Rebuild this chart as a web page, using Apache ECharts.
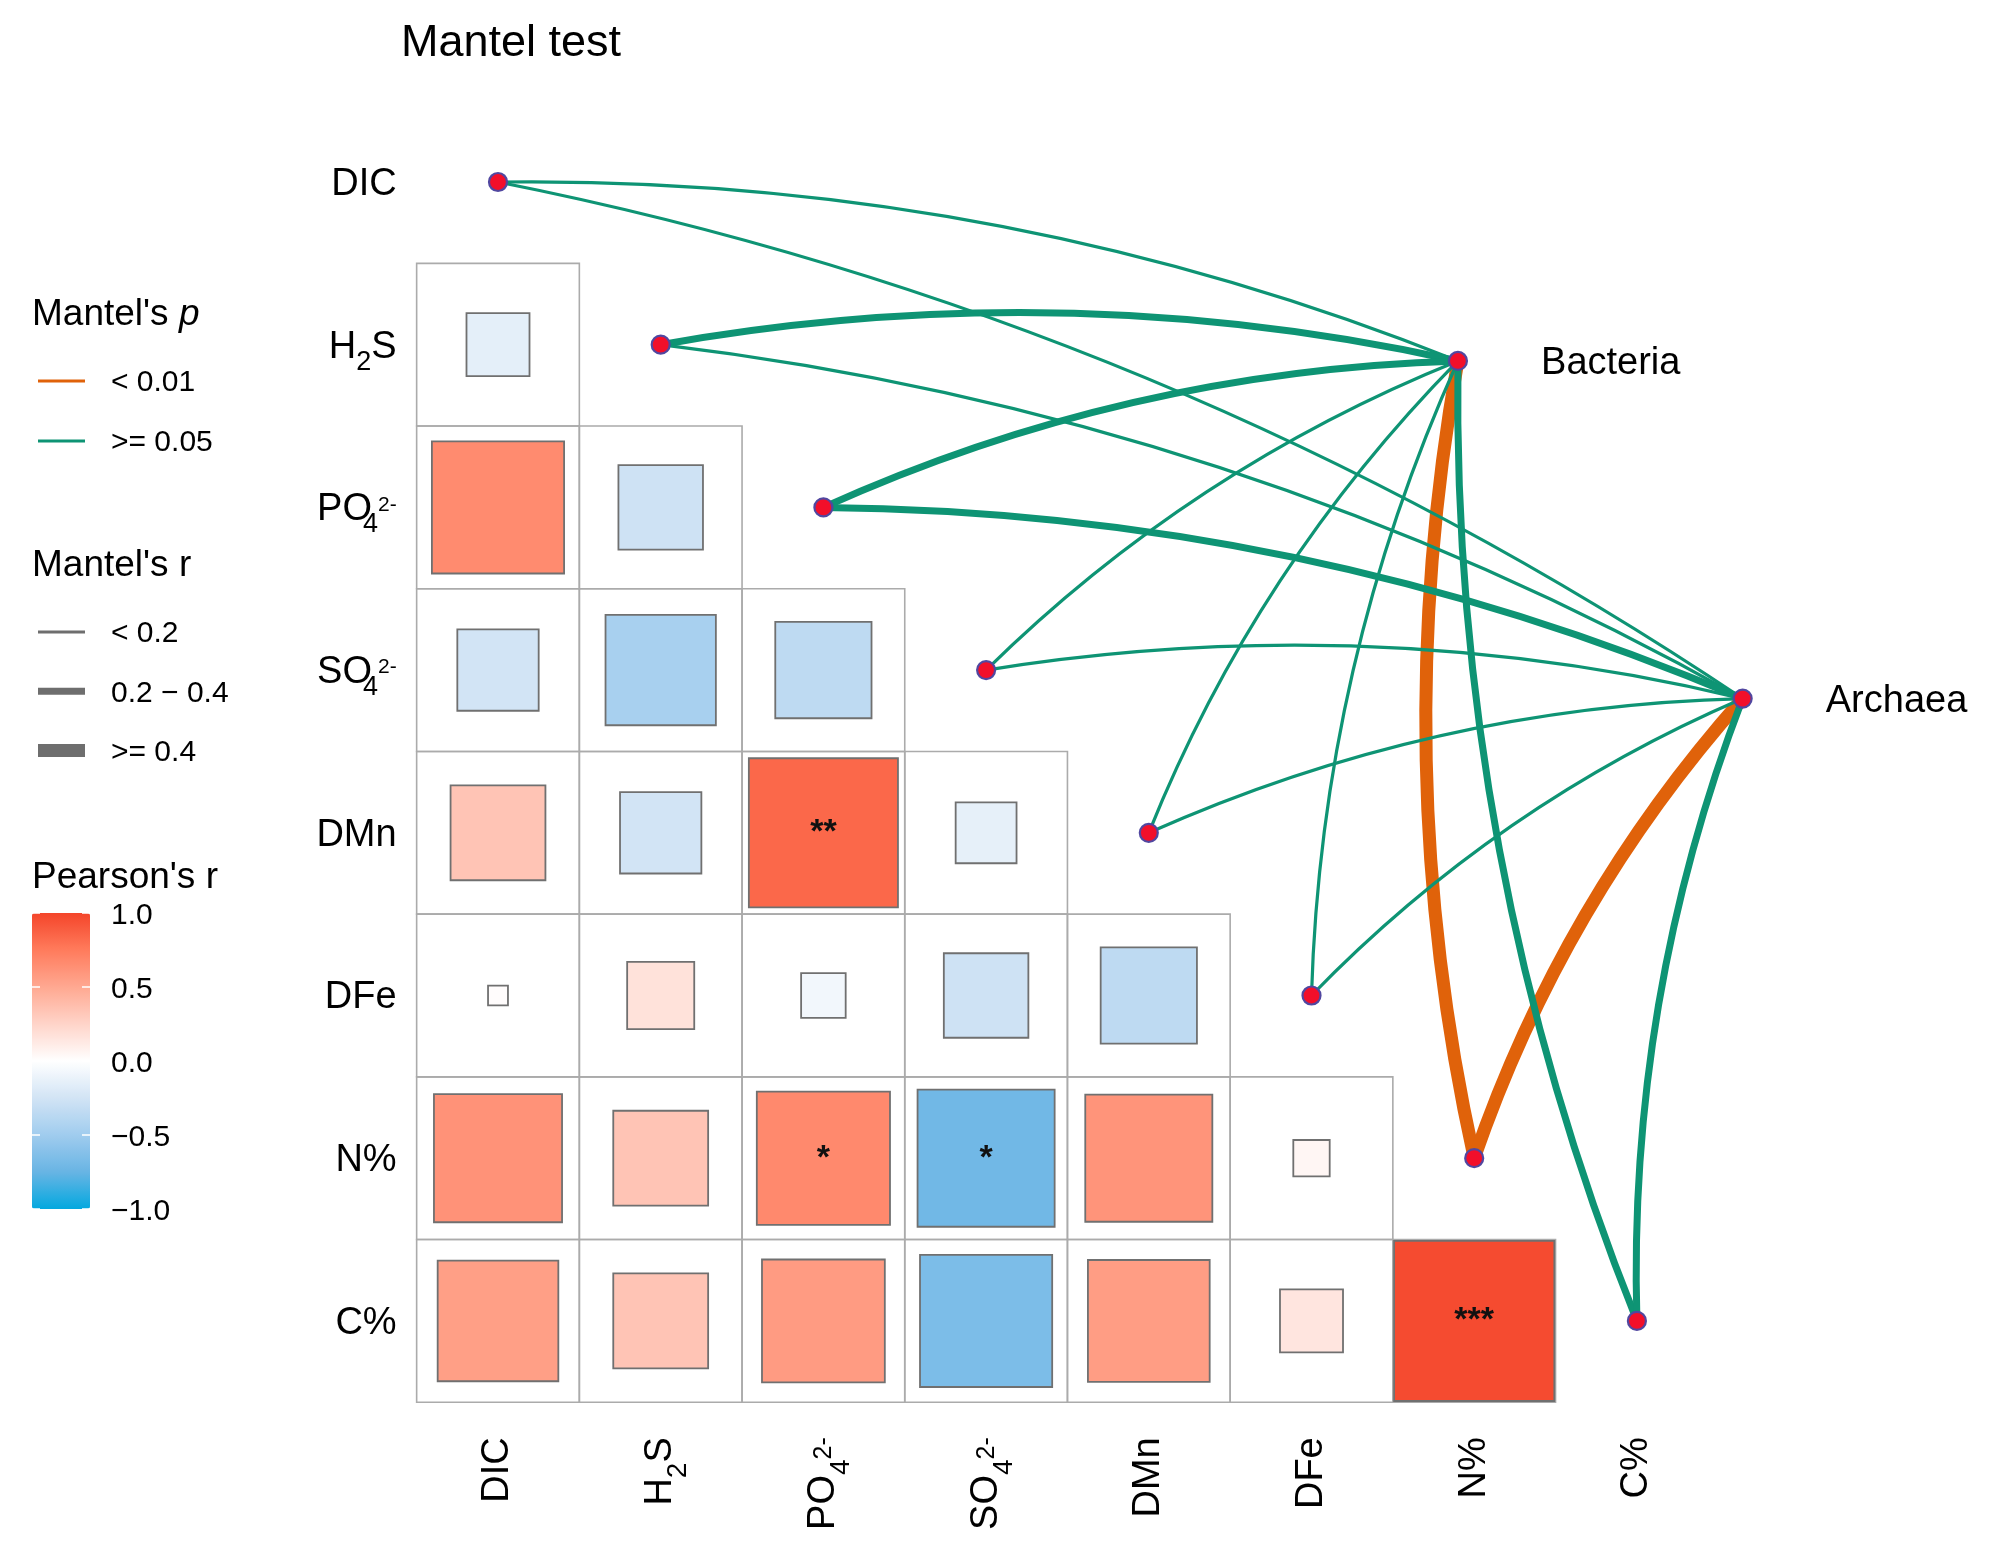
<!DOCTYPE html>
<html>
<head>
<meta charset="utf-8">
<script src="https://cdn.jsdelivr.net/npm/echarts@6/dist/echarts.min.js"></script>
<style>html,body{margin:0;padding:0;background:#fff}#chart{width:1995px;height:1550px}</style>
</head>
<body>
<div id="chart"></div>
<script>
// ---------------- DATA ----------------
const envVars = ['DIC', 'H2S', 'PO4', 'SO4', 'DMn', 'DFe', 'N%', 'C%'];
const speciesNames = ['Bacteria', 'Archaea'];
// Pearson's r, lower triangle: row i, columns 0..i-1
const pearsonR = [
  [],
  [-0.15],
  [0.66, -0.27],
  [-0.25, -0.46, -0.35],
  [0.34, -0.25, 0.84, -0.14],
  [0.015, 0.17, -0.075, -0.27, -0.35],
  [0.62, 0.34, 0.67, -0.71, 0.61, 0.05],
  [0.55, 0.34, 0.57, -0.66, 0.56, 0.15, 0.97]
];
const pearsonSig = [
  [],
  [''],
  ['', ''],
  ['', '', ''],
  ['', '', '**', ''],
  ['', '', '', '', ''],
  ['', '', '*', '*', '', ''],
  ['', '', '', '', '', '', '***']
];
// Mantel test classes per environmental variable (order of envVars)
const mantelPBacteria = ['>= 0.05', '>= 0.05', '>= 0.05', '>= 0.05', '>= 0.05', '>= 0.05', '< 0.01', '>= 0.05'];
const mantelRBacteria = ['< 0.2', '0.2 - 0.4', '0.2 - 0.4', '< 0.2', '< 0.2', '< 0.2', '>= 0.4', '0.2 - 0.4'];
const mantelPArchaea  = ['>= 0.05', '>= 0.05', '>= 0.05', '>= 0.05', '>= 0.05', '>= 0.05', '< 0.01', '>= 0.05'];
const mantelRArchaea  = ['< 0.2', '< 0.2', '0.2 - 0.4', '< 0.2', '< 0.2', '< 0.2', '>= 0.4', '0.2 - 0.4'];
const pLevels = ['< 0.01', '>= 0.05'];
const rLevels = ['< 0.2', '0.2 - 0.4', '>= 0.4'];
const colorbarTicks = [-1, -0.5, 0, 0.5, 1];

// ---------------- STYLE / LAYOUT ----------------
const FONT = "'Liberation Sans', Arial, Helvetica, sans-serif";
const CELL = 162.7;
const GRID_LEFT = 416.65, GRID_TOP = 100.65;
const LABEL_SIZE = 38;
const LINE_H = 56;
const pColor = { '< 0.01': '#E0620A', '>= 0.05': '#0E9474' };
const rWidth = { '< 0.2': 3.2, '0.2 - 0.4': 7, '>= 0.4': 13 };
const rLegendColor = '#6E6E6E';
const speciesAnchor = { Bacteria: [5.90, 1.10], Archaea: [7.65, 3.175] }; // in cell units
const heatColors = ['#03A8DF', '#68B4E4', '#A0CCEE', '#D2E4F5', '#FFFFFF', '#FFD4C9', '#FFA891', '#FF7B5C', '#F4452A'];

const labelMarkup = {
  'H2S': '{m|H}{sub|2}{m|S}',
  'PO4': '{m|PO}{sub4|4}{sup|2-}',
  'SO4': '{m|SO}{sub4|4}{sup|2-}'
};
function fmtLabel(v) { return labelMarkup[v] || ('{m|' + v + '}'); }
// tokens are all top-aligned; 'height' = 2 x centre offset from the top of the line
function richStyles(o) {
  const base = { fontFamily: FONT, color: '#000', verticalAlign: 'top', lineHeight: LINE_H };
  return {
    m: Object.assign({ fontSize: LABEL_SIZE, height: 2 * o.main }, base),
    sub: Object.assign({ fontSize: o.subSize, height: 2 * (o.main + o.subOff) }, base),
    sub4: Object.assign({ fontSize: o.subSize, height: 2 * (o.main + o.subOff) }, o.sub4Width ? { width: o.sub4Width } : {}, base),
    sup: Object.assign({ fontSize: o.supSize, height: 2 * (o.main + o.supOff) }, base)
  };
}

// ---------------- BUILD ----------------
const cells = [];
pearsonR.forEach((row, i) => row.forEach((r, j) => cells.push({ i, j, r, sig: pearsonSig[i][j] })));

const links = [];
speciesNames.forEach(sp => {
  const pArr = sp === 'Bacteria' ? mantelPBacteria : mantelPArchaea;
  const rArr = sp === 'Bacteria' ? mantelRBacteria : mantelRArchaea;
  envVars.forEach((env, i) => links.push({ sp, i, p: pArr[i], r: rArr[i] }));
});
links.sort((a, b) => pLevels.indexOf(a.p) - pLevels.indexOf(b.p));
const linesData = links.map(l => ({
  coords: [[l.i, l.i], speciesAnchor[l.sp]],
  lineStyle: { color: pColor[l.p], width: rWidth[l.r] }
}));

// legend graphics
const legendEls = [];
function legendTitle(markup, y) {
  legendEls.push({ type: 'text', x: 32, y: y, silent: true,
    style: { text: markup, fontSize: 37, fontFamily: FONT, fill: '#000', verticalAlign: 'middle', align: 'left',
      rich: { a: { fontSize: 37, fontFamily: FONT, fill: '#000' }, i: { fontSize: 37, fontFamily: FONT, fontStyle: 'italic', fill: '#000' } } } });
}
function legendItem(label, y, color, h) {
  legendEls.push({ type: 'rect', shape: { x: 38, y: y - h / 2, width: 47, height: h }, style: { fill: color }, silent: true });
  legendEls.push({ type: 'text', x: 111, y: y + 2, silent: true,
    style: { text: label, fontSize: 30, fontFamily: FONT, fill: '#000', verticalAlign: 'middle', align: 'left' } });
}
legendTitle("{a|Mantel's }{i|p}", 315);
pLevels.forEach((p, k) => legendItem(p, 381 + k * 60, pColor[p], 3));
legendTitle("Mantel's r", 566);
rLevels.forEach((r, k) => legendItem(r.replace(' - ', ' \u2212 '), 632 + k * 59.3, rLegendColor, rWidth[r]));
legendTitle("Pearson's r", 878);

const chart = echarts.init(document.getElementById('chart'), null, { renderer: 'canvas' });
const option = {
  animation: false,
  backgroundColor: '#fff',
  textStyle: { fontFamily: FONT },
  title: { text: 'Mantel test', left: 401, top: 21, padding: 0,
    textStyle: { fontSize: 45, fontWeight: 'normal', color: '#000', fontFamily: FONT } },
  grid: [
    { left: GRID_LEFT, top: GRID_TOP, width: CELL * 8, height: CELL * 8 },
    { left: 32, top: 913, width: 58, height: 296 }
  ],
  xAxis: [
    { type: 'category', gridIndex: 0, data: envVars, position: 'bottom',
      axisLine: { show: false }, axisTick: { show: false }, splitLine: { show: false },
      axisLabel: { interval: 0, rotate: 90, margin: 35, formatter: fmtLabel,
        rich: richStyles({ main: 28, subSize: 28, subOff: 18, supSize: 25, supOff: 1 }),
        fontSize: LABEL_SIZE, lineHeight: LINE_H, fontFamily: FONT, color: '#000' } },
    { type: 'value', gridIndex: 0, min: -0.5, max: 7.5, show: false },
    { type: 'value', gridIndex: 1, min: 0, max: 1, show: false }
  ],
  yAxis: [
    { type: 'category', gridIndex: 0, data: envVars, inverse: true, position: 'left',
      axisLine: { show: false }, axisTick: { show: false }, splitLine: { show: false },
      axisLabel: { interval: 0, margin: 20, formatter: fmtLabel,
        rich: richStyles({ main: 30.5, subSize: 27, subOff: 15, supSize: 21, supOff: -5, sub4Width: 6 }),
        fontSize: LABEL_SIZE, lineHeight: LINE_H, fontFamily: FONT, color: '#000' } },
    { type: 'value', gridIndex: 0, min: -0.5, max: 7.5, inverse: true, show: false },
    { type: 'value', gridIndex: 1, min: -1, max: 1, interval: 0.5, position: 'left', z: 10,
      axisLine: { show: false }, splitLine: { show: false }, axisLabel: { show: false },
      axisTick: { show: true, inside: true, length: 8, lineStyle: { color: '#ffffff', width: 1.5 } } },
    { type: 'value', gridIndex: 1, min: -1, max: 1, interval: 0.5, position: 'right', z: 10,
      axisLine: { show: false }, splitLine: { show: false },
      axisTick: { show: true, inside: true, length: 8, lineStyle: { color: '#ffffff', width: 1.5 } },
      axisLabel: { show: true, margin: 21, fontSize: 30, lineHeight: 40, fontFamily: FONT, color: '#000',
        rich: { v: { fontSize: 30, fontFamily: FONT, color: '#000', verticalAlign: 'top', height: 45, lineHeight: 40 } },
        formatter: v => '{v|' + (v < 0 ? '\u2212' : '') + Math.abs(v).toFixed(1) + '}' } }
  ],
  visualMap: {
    type: 'continuous', min: -1, max: 1, dimension: 2, seriesIndex: 0,
    inRange: { color: heatColors }, orient: 'vertical',
    left: 32, top: 913, itemWidth: 58, itemHeight: 296, padding: 0,
    calculable: false, text: null, hoverLink: false
  },
  graphic: { elements: legendEls },
  series: [
    {
      type: 'custom', coordinateSystem: 'cartesian2d', xAxisIndex: 1, yAxisIndex: 1,
      data: cells.map(c => [c.j, c.i, c.r]),
      encode: { x: 0, y: 1 }, silent: true, z: 2,
      renderItem: function (params, api) {
        const c = cells[params.dataIndex];
        const p = api.coord([api.value(0), api.value(1)]);
        const sz = api.size([1, 1]);
        const w = Math.abs(sz[0]), h = Math.abs(sz[1]);
        const s = Math.sqrt(Math.abs(api.value(2)));
        return {
          type: 'group',
          children: [
            { type: 'rect', shape: { x: p[0] - w / 2, y: p[1] - h / 2, width: w, height: h },
              style: { fill: 'none', stroke: '#ABABAB', lineWidth: 1.6 } },
            { type: 'rect', shape: { x: p[0] - w * s / 2, y: p[1] - h * s / 2, width: w * s, height: h * s },
              style: { fill: api.visual('color'), stroke: '#707070', lineWidth: 1.8 } },
            { type: 'text', style: { text: c.sig, x: p[0], y: p[1], align: 'center', verticalAlign: 'middle',
              fontSize: 34, fontWeight: 'bold', fontFamily: FONT, fill: '#111' } }
          ]
        };
      }
    },
    {
      type: 'lines', coordinateSystem: 'cartesian2d', xAxisIndex: 1, yAxisIndex: 1,
      data: linesData, clip: false, silent: true, z: 3,
      lineStyle: { curveness: 0.1, opacity: 1 }
    },
    {
      type: 'scatter', xAxisIndex: 1, yAxisIndex: 1, clip: false, silent: true, z: 4,
      data: envVars.map((e, i) => [i, i]),
      symbol: 'circle', symbolSize: 18,
      itemStyle: { color: '#F20F2A', borderColor: '#5147A0', borderWidth: 2.2, opacity: 1 }
    },
    {
      type: 'scatter', xAxisIndex: 1, yAxisIndex: 1, clip: false, silent: true, z: 4,
      data: speciesNames.map(s => ({ name: s, value: speciesAnchor[s] })),
      symbol: 'circle', symbolSize: 18,
      itemStyle: { color: '#F20F2A', borderColor: '#5147A0', borderWidth: 2.2, opacity: 1 },
      label: { show: true, position: 'right', distance: 73, offset: [0, 3], formatter: '{b}', fontSize: LABEL_SIZE,
        fontFamily: FONT, color: '#000' }
    }
  ]
};
chart.setOption(option);
</script>
</body>
</html>
